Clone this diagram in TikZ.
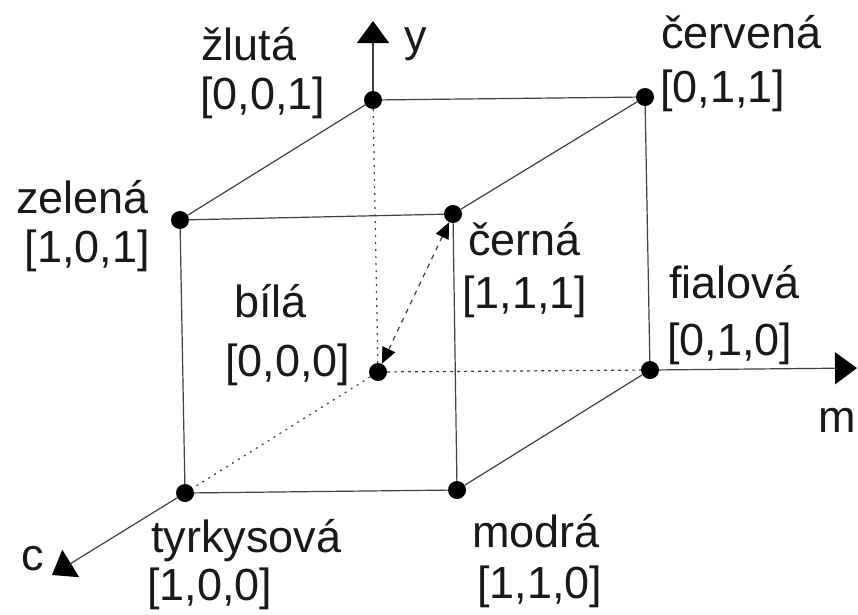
\documentclass[tikz,border=0pt]{standalone}
\usepackage{fontspec}
\setmainfont{Liberation Sans}
\usetikzlibrary{arrows.meta}
\begin{document}
\begin{tikzpicture}[x=1pt,y=-1pt,
  vdot/.style={circle,fill=black,inner sep=0pt,minimum size=18pt},
  edge/.style={draw=black!75,line width=1.2pt},
  hidden/.style={edge,dash pattern=on 3pt off 4pt},
  dotline/.style={edge,dash pattern=on 2pt off 5pt},
  axis/.style={edge,-{Triangle[length=22pt,width=32pt,color=black]}},
  dbl/.style={edge,dash pattern=on 5pt off 5pt,{Triangle[length=16pt,width=14pt,color=black]}-{Triangle[length=16pt,width=14pt,color=black]}},
  lbl/.style={inner sep=0pt,font=\fontsize{45}{54}\selectfont,text=black!90},
  ]
\useasboundingbox (0,0) rectangle (858,614);
% vertices
\node[vdot] (zl) at (373,100) {};
\node[vdot] (cv) at (645,97) {};
\node[vdot] (ze) at (180,220) {};
\node[vdot] (ce) at (453,214) {};
\node[vdot] (bi) at (378,372) {};
\node[vdot] (fi) at (650,370) {};
\node[vdot] (ty) at (185,493) {};
\node[vdot] (mo) at (457,490) {};
% axis ends
\coordinate (ytip) at (373,21);
\coordinate (mtip) at (857,368);
\coordinate (ctip) at (52,575);
% solid edges
\draw[edge] (zl) -- (cv);
\draw[edge] (zl) -- (ze);
\draw[edge] (ze) -- (ce);
\draw[edge] (ce) -- (cv);
\draw[edge] (cv) -- (fi);
\draw[edge] (ze) -- (ty);
\draw[edge] (ce) -- (mo);
\draw[edge] (ty) -- (mo);
\draw[edge] (mo) -- (fi);
% hidden edges
\draw[dotline] (zl) -- (bi);
\draw[hidden] (bi) -- (fi);
\draw[dotline] (bi) -- (ty);
\draw[dbl] (bi) -- (ce);
% axes
\draw[axis] (zl) -- (ytip);
\draw[axis] (fi) -- (mtip);
\draw[axis] (ty) -- (ctip);
% labels
\node[lbl,anchor=base west] (zlN) at (201,60) {žlutá};
\node[lbl,anchor=base west] (zlC) at (200,109) {[0,0,1]};
\node[lbl,anchor=base west] (cvN) at (661,48) {červená};
\node[lbl,anchor=base west] (cvC) at (660,102) {[0,1,1]};
\node[lbl,anchor=base east] (zeN) at (149,213) {zelená};
\node[lbl,anchor=base east] (zeC) at (150,262) {[1,0,1]};
\node[lbl,anchor=base west] (ceN) at (468,255) {černá};
\node[lbl,anchor=base west] (ceC) at (462,308) {[1,1,1]};
\node[lbl,anchor=base west] (biN) at (234,317) {bílá};
\node[lbl,anchor=base west] (biC) at (225,376) {[0,0,0]};
\node[lbl,anchor=base west] (fiN) at (669,298) {fialová};
\node[lbl,anchor=base west] (fiC) at (667,355) {[0,1,0]};
\node[lbl,anchor=base west] (tyN) at (151,552) {tyrkysová};
\node[lbl,anchor=base west] (tyC) at (147,600) {[1,0,0]};
\node[lbl,anchor=base west] (moN) at (472,547) {modrá};
\node[lbl,anchor=base west] (moC) at (477,598) {[1,1,0]};
\node[lbl,anchor=base west] (yL) at (404,51) {y};
\node[lbl,anchor=base west] (mL) at (818,432) {m};
\node[lbl,anchor=base west] (cL) at (21,570) {c};
\end{tikzpicture}
\end{document}
